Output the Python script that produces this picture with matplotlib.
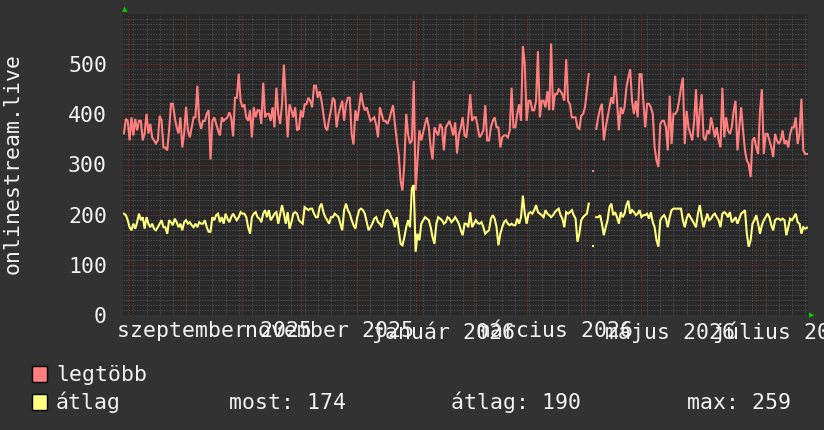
import numpy as np
import pandas as pd
import matplotlib
matplotlib.use("Agg")
import matplotlib.pyplot as plt
from matplotlib.patches import Rectangle

# daily values, 2025-07-30 .. 2026-07-28 (None = no data)
start = "2025-07-30"

legtobb = [
    362, 391, 387, 348, 394, 358, 391, 368, 387, 387,
    348, 362, 401, 362, 381, 354, 348, 342, 348, 397, 387, 334, 334, 328, 368,
    421, 421, 394, 374, 362, 394, 334, 362, 415, 368, 354, 374, 394, 394, 457, 387, 371,
    387, 387, 401, 408, 310, 387, 394, 381, 368, 358, 394, 387, 391, 394, 404, 394, 356,
    433, 433, 481, 427, 414, 420, 394, 387, 408, 354, 414, 394, 408, 408, 381, 463, 394,
    401, 401, 387, 414, 374, 453, 401, 381, 420, 499, 427, 354, 420, 408, 394, 414, 368,
    # d93 ..
    371, 408, 394, 420, 420, 433, 427, 414, 457, 457, 433, 446, 427, 400, 374, 368, 390,
    408, 433, 427, 374, 400, 414, 427, 387, 420, 433, 433, 360, 340, 408, 387, 415, 443,
    420, 408, 414, 400, 387, 390, 394, 380, 354, 414, 400, 387, 387, 381, 390, 405, 418,
    380, 348, 320, 268, 248, 302, 401, 360, 342, 348, 467, 248, 308, 368, 348, 364, 380,
    394, 374, 334, 310, 374, 365, 358, 381, 374, 328, 374, 380, 387, 374, 358, 384, 322,
    360, 374, 394, 358, 354, 394, 440, 387, 394, 394, 374, 354, 360, 368, 418, 348, 348,
    374, 387, 394, 374, 374, 334, 354, 358, 358, 354, 368, 453, 374, 374, 401, 420, 387,
    536, 500, 387, 427, 427, 408, 408, 427, 526, 394, 427, 427, 414, 446, 408, 541, 408,
    440, 440, 450, 446, 440, 427, 510, 427, 420, 394, 394, 394, 374,
    # d242 ..
    371, 397, 401, 414, 447, 480, None, 288, None, 371, 394, 411, 421, 348, 374, 394, 414,
    434, 421, 477, 427, 368, 414, 401, 414, 453, 473, 490, 427, 401, 427, 394, 480, 480,
    427, 374, 421, 421, 414, 401, 334, 308, 295, 381, 387, 387, 374, 328, 437, 341, 401,
    401, 407, 427, 453, 473, 341, 407, 374, 361, 348, 387, 450, 354, 407, 440, 354, 348,
    368, 361, 394, 374, 354, 374, 348, 334, 453, 354, 394, 368, 361, 374, 407, 427, 328,
    374, 414, 368, 328, 308, 301, 275, 348, 354, 334, 321, 407, 450, 321, 361, 361, 348,
    334, 315, 361, 348, 341, 348, 368, 341, 348, 334, 361, 374, 374, 394, 341, 361, 431,
    328, 321, 321,
]

atlag = [
    202, 199, 189, 175, 169, 182, 172, 185, 202, 189, 195, 172, 195, 182, 175, 182, 172,
    169, 175, 182, 189, 175, 175, 162, 189, 185, 179, 192, 185, 175, 182, 169, 185, 189,
    182, 185, 179, 175, 182, 175, 185, 182, 182, 189, 175, 166, 166, 195, 189, 199, 202,
    185, 195, 182, 202, 192, 185, 195, 202, 195, 189, 195, 205, 202, 202, 195, 175, 162,
    195, 202, 205, 195, 192, 185, 202, 209, 195, 209, 189, 195, 202, 205, 182, 200, 219,
    202, 182, 205, 172, 185, 202, 205, 202,
    # d93 ..
    189, 185, 182, 215, 212, 209, 212, 212, 202, 195, 195, 215, 222, 205, 195, 189, 182,
    195, 195, 202, 199, 195, 182, 169, 209, 222, 209, 202, 189, 179, 172, 195, 209, 212,
    209, 202, 185, 169, 175, 182, 192, 195, 185, 182, 175, 192, 205, 209, 205, 195, 189,
    175, 195, 169, 142, 139, 155, 175, 189, 175, 252, 259, 126, 162, 149, 182, 189, 195,
    192, 189, 175, 155, 142, 182, 195, 192, 189, 182, 185, 195, 192, 185, 189, 195, 189,
    182, 169, 159, 182, 182, 175, 205, 175, 182, 189, 183, 182, 185, 175, 162, 166, 169,
    192, 199, 192, 175, 139, 162, 175, 185, 189, 182, 179, 182, 179, 179, 192, 182, 195,
    238, 202, 182, 202, 205, 202, 209, 219, 205, 202, 199, 195, 209, 202, 199, 195, 199,
    205, 209, 212, 199, 192, 175, 205, 202, 205, 209, 199, 192, 146,
    # d242 ..
    162, 189, 195, 199, 202, 222, None, 138, None, 195, 195, 199, 182, 159, 175, 189, 215,
    222, 199, 205, 195, 182, 205, 195, 202, 219, 228, 202, 209, 205, 199, 202, 209, 195,
    199, 199, 202, 192, 205, 185, 175, 149, 136, 189, 195, 199, 192, 175, 195, 209, 212,
    212, 212, 212, 212, 189, 175, 192, 202, 195, 189, 182, 175, 202, 219, 195, 175, 189,
    202, 189, 192, 199, 202, 195, 189, 175, 202, 205, 202, 195, 205, 185, 189, 195, 182,
    192, 202, 205, 209, 162, 136, 149, 182, 189, 199, 182, 162, 179, 189, 195, 202, 195,
    179, 169, 189, 192, 192, 189, 192, 189, 159, 175, 192, 189, 195, 202, 185, 182, 162,
    175, 172, 174,
]

y_ticks = [0, 100, 200, 300, 400, 500]
label_dates = ["2025-09-16", "2025-11-16", "2026-01-16", "2026-03-16", "2026-05-16", "2026-07-16"]
label_texts = ["szeptember 2025", "november 2025", "január 2026",
               "március 2026", "május 2026", "július 2026"]

days = pd.date_range(start, periods=len(legtobb), freq="D")
red = np.array([np.nan if v is None else v for v in legtobb], dtype=float)
yel = np.array([np.nan if v is None else v for v in atlag], dtype=float)

BG = "#323232"
PLOT_BG = "#282828"
FG = "#f2f2f2"
RED = "#ff7f7f"
YEL = "#ffff80"
MONO = "DejaVu Sans Mono"
FS = 15.5

W, H = 824, 430
fig = plt.figure(figsize=(W / 100, H / 100), dpi=100, facecolor=BG)
ax = fig.add_axes([123 / W, 1 - 315 / H, (808 - 123) / W, (315 - 14) / H])
ax.set_facecolor(PLOT_BG)

x0 = pd.Timestamp("2025-07-29 12:00")
x1 = pd.Timestamp("2026-07-28 12:00")

# grid: weekly minor, monthly major, 10 / 100 units horizontally
for d in pd.date_range("2025-07-28", x1, freq="W-MON"):
    ax.axvline(d, color="#4c4c4c", lw=0.75, ls=(0, (1.3, 1.3)), zorder=0)
for v in range(10, 600, 10):
    if v % 100:
        ax.axhline(v, color="#4c4c4c", lw=0.75, ls=(0, (1.3, 1.3)), zorder=0)
for d in pd.date_range("2025-08-01", x1, freq="MS"):
    ax.axvline(d, color="#7a2c2c", lw=0.75, ls=(0, (1.3, 1.3)), zorder=0.5)
for v in range(100, 600, 100):
    ax.axhline(v, color="#7a2c2c", lw=0.75, ls=(0, (1.3, 1.3)), zorder=0.5)

ax.plot(days, red, color=RED, lw=1.5, zorder=3, solid_joinstyle="miter")
ax.plot(days, yel, color=YEL, lw=1.5, zorder=4, solid_joinstyle="miter")

# isolated samples (no neighbours) as short dashes
for arr, col in ((red, RED), (yel, YEL)):
    prev_nan = np.r_[True, np.isnan(arr[:-1])]
    next_nan = np.r_[np.isnan(arr[1:]), True]
    lone = ~np.isnan(arr) & prev_nan & next_nan
    ax.plot(days[lone], arr[lone], ls="none", marker="s", ms=1.6, mew=0, color=col, zorder=4)

ax.set_xlim(x0, x1)
ax.set_ylim(0, 600)

ax.set_yticks(y_ticks)
ax.set_yticklabels([str(v) for v in y_ticks], fontfamily=MONO, fontsize=FS, color=FG)
ax.set_xticks(pd.to_datetime(label_dates))
ax.set_xticklabels(label_texts, fontfamily=MONO, fontsize=FS, color=FG)
ax.tick_params(axis="x", length=0, pad=4.5)
ax.tick_params(axis="y", length=0, pad=11.5)
for s in ax.spines.values():
    s.set_visible(False)

# axis arrows
fig.text(125 / W, 1 - 9 / H, "\u25b2", color="#00cc00", fontsize=5, ha="center", va="center")
fig.text(812 / W, 1 - 315 / H, "\u25b6", color="#00cc00", fontsize=5, ha="center", va="center")

fig.text(13 / W, 1 - 164 / H, "onlinestream.live", rotation=90, fontfamily=MONO,
         fontsize=FS, color=FG, ha="center", va="center")

# legend
for yb, col in ((382, RED), (410, YEL)):
    fig.add_artist(Rectangle((32 / W, 1 - yb / H), 15 / W, 16 / H, transform=fig.transFigure,
                             facecolor=col, edgecolor="black", lw=1))
fig.text(56 / W, 1 - 381 / H, "legtöbb", fontfamily=MONO, fontsize=FS, color=FG, va="baseline")
fig.text(56 / W, 1 - 409 / H, "átlag", fontfamily=MONO, fontsize=FS, color=FG, va="baseline")
fig.text(229 / W, 1 - 409 / H, "most: 174", fontfamily=MONO, fontsize=FS, color=FG, va="baseline")
fig.text(451 / W, 1 - 409 / H, "átlag: 190", fontfamily=MONO, fontsize=FS, color=FG, va="baseline")
fig.text(687 / W, 1 - 409 / H, "max: 259", fontfamily=MONO, fontsize=FS, color=FG, va="baseline")

fig.savefig("out.png", dpi=100, facecolor=BG)
